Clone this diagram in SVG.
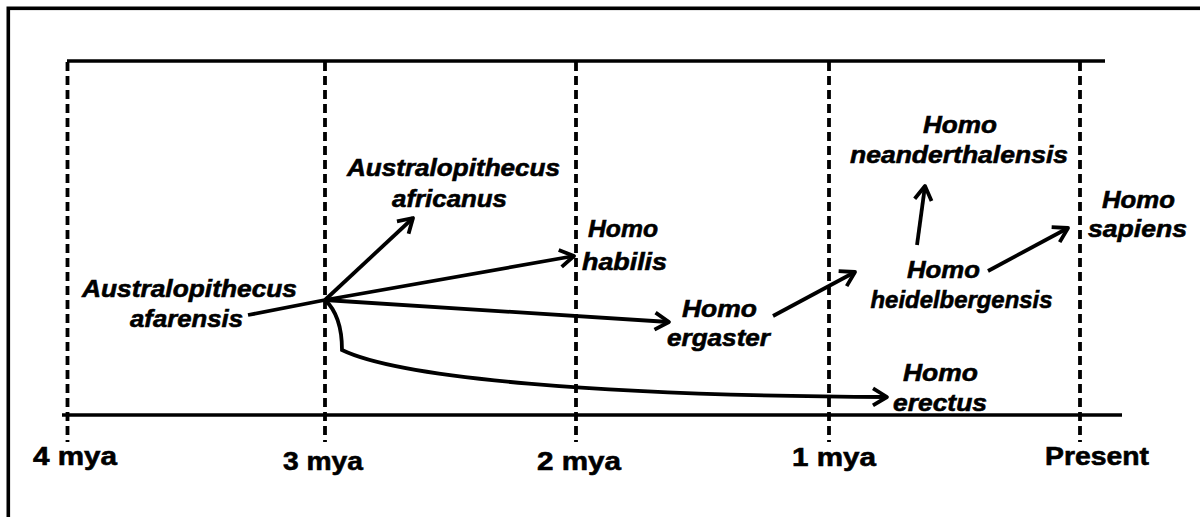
<svg xmlns="http://www.w3.org/2000/svg" width="1200" height="517" viewBox="0 0 1200 517">
<style>
.frame{fill:none;stroke:#000;stroke-width:3.6}
.axis{stroke:#000;stroke-width:3.6;fill:none}
.dash{stroke:#000;stroke-width:3.8;stroke-dasharray:9 5;fill:none}
.conn{stroke:#000;stroke-width:3.8;fill:none;marker-end:url(#arr)}
.plain{stroke:#000;stroke-width:3.8;fill:none}
.sp{font-family:"Liberation Sans",Arial,sans-serif;font-weight:bold;font-style:italic;font-size:24.5px;text-anchor:middle;fill:#000;stroke:#000;stroke-width:0.6}
.tl{font-family:"Liberation Sans",Arial,sans-serif;font-weight:bold;font-size:25.5px;text-anchor:middle;fill:#000;stroke:#000;stroke-width:0.6}
</style>
<defs>
<marker id="arr" markerUnits="userSpaceOnUse" viewBox="-18 -12 22 24" markerWidth="22" markerHeight="24" refX="0" refY="0" orient="auto">
<path d="M-14,-8.5 L0,0 L-14,8.5" fill="none" stroke="#000" stroke-width="3.8" stroke-linejoin="round" stroke-linecap="butt"/>
</marker>
</defs>
<rect class="frame" x="8.3" y="8.3" width="1300" height="600"/>
<g id="timeline">
<line class="axis" x1="67" y1="61" x2="1105" y2="61"/>
<line class="axis" x1="62" y1="415" x2="1122" y2="415"/>
<line class="dash" x1="67.5" y1="62" x2="67.5" y2="442"/>
<line class="dash" x1="325" y1="62" x2="325" y2="442"/>
<line class="dash" x1="576" y1="62" x2="576" y2="442"/>
<line class="dash" x1="829" y1="62" x2="829" y2="442"/>
<line class="dash" x1="1080" y1="62" x2="1080" y2="442"/>
<text class="tl" x="75" y="465" textLength="84" lengthAdjust="spacingAndGlyphs">4 mya</text>
<text class="tl" x="323" y="470" textLength="80" lengthAdjust="spacingAndGlyphs">3 mya</text>
<text class="tl" x="579" y="470" textLength="84" lengthAdjust="spacingAndGlyphs">2 mya</text>
<text class="tl" x="834" y="466" textLength="84" lengthAdjust="spacingAndGlyphs">1 mya</text>
<text class="tl" x="1097" y="465" textLength="104" lengthAdjust="spacingAndGlyphs">Present</text>
</g>
<g id="connectors">
<line class="plain" x1="248" y1="315" x2="325" y2="300"/>
<line class="conn" x1="325" y1="300" x2="413" y2="218"/>
<line class="conn" x1="325" y1="300" x2="574" y2="256"/>
<line class="conn" x1="325" y1="300" x2="669" y2="322"/>
<path class="conn" d="M325,300 C338,312 342,330 342,350 C400,378 600,396 887,397"/>
<line class="conn" x1="773" y1="316" x2="855" y2="272"/>
<line class="conn" x1="917" y1="245" x2="925" y2="186"/>
<line class="conn" x1="988" y1="271" x2="1068" y2="228"/>
</g>
<g id="n-afarensis">
<text class="sp" x="189.5" y="297" textLength="215" lengthAdjust="spacingAndGlyphs">Australopithecus</text>
<text class="sp" x="186.5" y="327" textLength="113" lengthAdjust="spacingAndGlyphs">afarensis</text>
</g>
<g id="n-africanus">
<text class="sp" x="453.5" y="176" textLength="213" lengthAdjust="spacingAndGlyphs">Australopithecus</text>
<text class="sp" x="449.5" y="207" textLength="115" lengthAdjust="spacingAndGlyphs">africanus</text>
</g>
<g id="n-habilis">
<text class="sp" x="623" y="237" textLength="70" lengthAdjust="spacingAndGlyphs">Homo</text>
<text class="sp" x="624.5" y="270" textLength="85" lengthAdjust="spacingAndGlyphs">habilis</text>
</g>
<g id="n-ergaster">
<text class="sp" x="719.5" y="317" textLength="75" lengthAdjust="spacingAndGlyphs">Homo</text>
<text class="sp" x="718.5" y="346" textLength="103" lengthAdjust="spacingAndGlyphs">ergaster</text>
</g>
<g id="n-heidelbergensis">
<text class="sp" x="943.5" y="278" textLength="73" lengthAdjust="spacingAndGlyphs">Homo</text>
<text class="sp" x="961.5" y="308" textLength="182" lengthAdjust="spacingAndGlyphs">heidelbergensis</text>
</g>
<g id="n-neanderthalensis">
<text class="sp" x="960" y="133" textLength="74" lengthAdjust="spacingAndGlyphs">Homo</text>
<text class="sp" x="959" y="163" textLength="218" lengthAdjust="spacingAndGlyphs">neanderthalensis</text>
</g>
<g id="n-sapiens">
<text class="sp" x="1138.5" y="208" textLength="73" lengthAdjust="spacingAndGlyphs">Homo</text>
<text class="sp" x="1137.5" y="237" textLength="99" lengthAdjust="spacingAndGlyphs">sapiens</text>
</g>
<g id="n-erectus">
<text class="sp" x="940.5" y="381" textLength="75" lengthAdjust="spacingAndGlyphs">Homo</text>
<text class="sp" x="940" y="411" textLength="94" lengthAdjust="spacingAndGlyphs">erectus</text>
</g>
</svg>
